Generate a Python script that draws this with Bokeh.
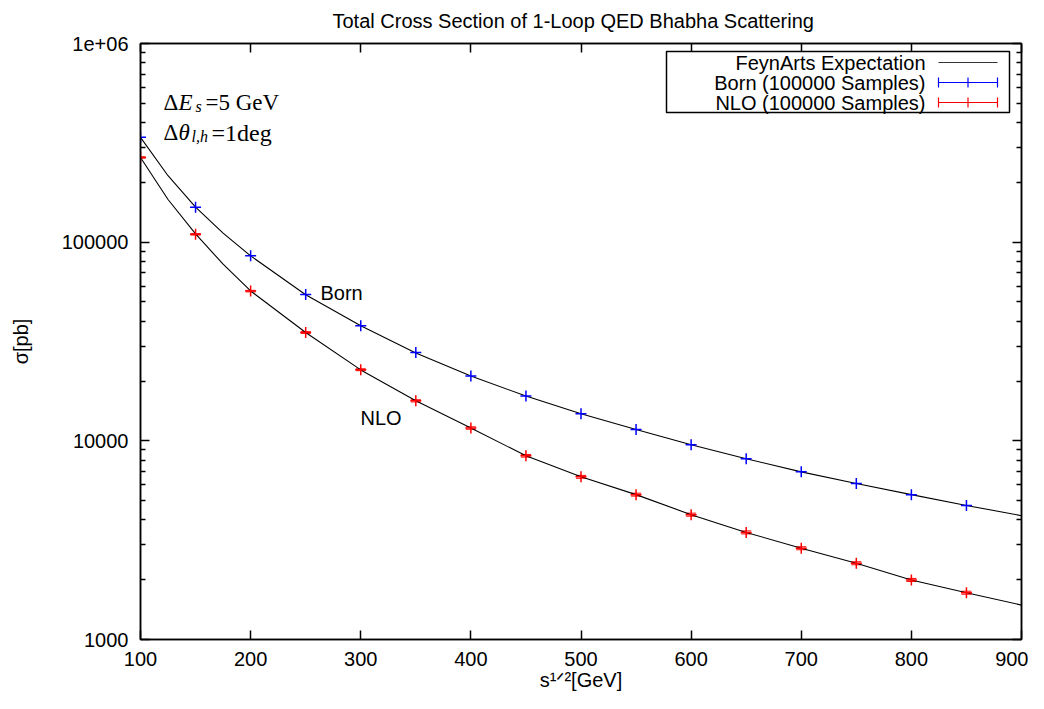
from bokeh.plotting import figure
from bokeh.models import (Label, BoxAnnotation, Arrow, TeeHead, FixedTicker,
                          LinearAxis, LogAxis, Range1d, Whisker, ColumnDataSource)
from bokeh.embed import file_html
from bokeh.resources import INLINE

# ---------------- data ----------------
energies = [100, 150, 200, 250, 300, 350, 400, 450, 500, 550, 600, 650, 700, 750, 800, 850]
born_mc = [337000, 150000, 85500, 54500, 38000, 27800, 21200, 16800, 13700, 11400,
           9550, 8130, 6980, 6100, 5360, 4730]
nlo_mc = [267000, 109500, 56700, 35100, 22800, 15900, 11600, 8410, 6590, 5360,
          4250, 3460, 2880, 2420, 1995, 1720]
nlo_err = [2000, 900, 500, 350, 250, 200, 160, 130, 110, 90, 75, 60, 50, 42, 35, 30]

curve_x = [100, 125, 150, 175, 200, 250, 300, 350, 400, 450, 500, 550, 600, 650, 700,
           750, 800, 850, 900]
born_curve = [337000, 216000, 150000, 111000, 85300, 54400, 38000, 27700, 21200, 16800,
              13700, 11400, 9550, 8130, 6980, 6100, 5360, 4730, 4200]
nlo_curve = [267000, 164000, 110000, 77500, 56800, 35100, 22750, 15900, 11600, 8410,
             6590, 5360, 4250, 3460, 2880, 2420, 1995, 1720, 1490]

x_ticks = [100, 200, 300, 400, 500, 600, 700, 800, 900]
y_ticks = [1000, 10000, 100000, 1000000]
y_tick_labels = ["1000", "10000", "100000", "1e+06"]
y_minor = [m * d for d in (1000, 10000, 100000) for m in range(2, 10)]

title_text = "Total Cross Section of 1-Loop QED Bhabha Scattering"
x_label = "s¹ᐟ²[GeV]"
y_label = "σ[pb]"
legend_labels = ["FeynArts Expectation", "Born (100000 Samples)", "NLO (100000 Samples)"]

SANS = "Liberation Sans"
SERIF = "Liberation Serif"
FS = "20px"

p = figure(width=1028, height=693,
           x_range=Range1d(100, 900), y_range=Range1d(1000, 1e6),
           y_axis_type="log", output_backend="svg", toolbar_location=None,
           min_border_left=140, min_border_right=7, min_border_top=42,
           min_border_bottom=54)
p.grid.visible = False
p.outline_line_color = "black"
p.outline_line_width = 1.5
p.background_fill_color = "white"
p.border_fill_color = "white"

p.title.text = title_text
p.title.text_font = SANS
p.title.text_font_size = FS
p.title.text_font_style = "normal"
p.title.text_color = "black"
p.title.align = "left"
p.title.offset = 192
p.title.standoff = 19
p.title.vertical_align = "top"

def style_axis(ax):
    ax.axis_line_color = "black"
    ax.axis_line_width = 1.5
    ax.major_tick_line_color = "black"
    ax.minor_tick_line_color = "black"
    ax.major_tick_line_width = 1.5
    ax.minor_tick_line_width = 1.5
    ax.major_tick_in = 9
    ax.major_tick_out = 0
    ax.minor_tick_in = 5
    ax.minor_tick_out = 0
    ax.major_label_text_font = SANS
    ax.major_label_text_font_size = FS
    ax.major_label_text_color = "black"
    ax.axis_label_text_font = SANS
    ax.axis_label_text_font_style = "normal"
    ax.axis_label_text_font_size = FS
    ax.axis_label_text_color = "black"

xt = FixedTicker(ticks=x_ticks, minor_ticks=[])
yt = FixedTicker(ticks=y_ticks, minor_ticks=y_minor)

bx = p.xaxis[0]
bx.ticker = xt
style_axis(bx)
bx.major_label_standoff = 12
bx.axis_label = x_label
bx.axis_label_standoff = 0

ly = p.yaxis[0]
ly.ticker = yt
style_axis(ly)
ly.major_label_overrides = {t: l for t, l in zip(y_ticks, y_tick_labels)}
ly.major_label_standoff = 12
ly.axis_label = y_label
ly.axis_label_standoff = 27

top = LinearAxis(ticker=xt)
style_axis(top)
top.major_label_overrides = {t: "" for t in x_ticks}
top.major_label_standoff = 0
top.major_label_text_font_size = "1px"
p.add_layout(top, "above")

right = LogAxis(ticker=yt)
style_axis(right)
right.major_label_overrides = {t: "" for t in y_ticks}
right.major_label_standoff = 0
right.major_label_text_font_size = "1px"
p.add_layout(right, "right")

# ---------------- curves and points ----------------
p.line(curve_x, born_curve, line_color="black", line_width=1.1)
p.line(curve_x, nlo_curve, line_color="black", line_width=1.1)

src = ColumnDataSource(dict(x=energies, lo=[v - e for v, e in zip(nlo_mc, nlo_err)],
                            hi=[v + e for v, e in zip(nlo_mc, nlo_err)]))
p.add_layout(Whisker(source=src, base="x", lower="lo", upper="hi", dimension="height",
                     line_color="red", line_width=1.0,
                     lower_head=TeeHead(size=10, line_color="red", line_width=1.0),
                     upper_head=TeeHead(size=10, line_color="red", line_width=1.0)))

p.scatter(energies, born_mc, marker="cross", size=11, line_color="blue", line_width=1.5)
p.scatter(energies, nlo_mc, marker="cross", size=11, line_color="red", line_width=1.5)

# ---------------- texts inside the frame ----------------
def canvas_label(x, y, text, font=SANS, size=FS, align="left", baseline="alphabetic",
                 style="normal"):
    p.add_layout(Label(x=x, y=y, x_units="canvas", y_units="canvas", text=text,
                       text_font=font, text_font_size=size, text_align=align,
                       text_baseline=baseline, text_font_style=style, text_color="black"))

canvas_label(320, 292, "Born")
canvas_label(360, 417, "NLO")

SZ = "23px"
SUB = "16px"
canvas_label(163, 102, "Δ", font=SERIF, size=SZ)
canvas_label(178, 102, "E", font=SERIF, size=SZ, style="italic")
canvas_label(195, 106, "s", font=SERIF, size=SUB, style="italic")
canvas_label(205, 102, "=5 GeV", font=SERIF, size=SZ)
canvas_label(163, 132, "Δ", font=SERIF, size=SZ)
canvas_label(178, 132, "θ", font=SERIF, size=SZ, style="italic")
canvas_label(191, 136, "l,h", font=SERIF, size=SUB, style="italic")
canvas_label(211, 132, "=1deg", font=SERIF, size="24px")

# ---------------- legend (gnuplot style: text left, sample right) ----------------
p.add_layout(BoxAnnotation(left=666, right=1009, top=51, bottom=112,
                           left_units="canvas", right_units="canvas",
                           top_units="canvas", bottom_units="canvas",
                           fill_color="white", fill_alpha=1.0,
                           line_color="black", line_alpha=1.0, line_width=1.5))
rows = [62, 82, 102]
colors = ["black", "blue", "red"]
for i, (lab, c, ry) in enumerate(zip(legend_labels, colors, rows)):
    canvas_label(925, ry, lab, align="right", baseline="middle")
    if i == 0:
        p.add_layout(Arrow(x_start=938, y_start=ry, x_end=997, y_end=ry,
                           start_units="canvas", end_units="canvas",
                           start=None, end=None, line_color="#333333", line_width=1.2))
    else:
        p.add_layout(Arrow(x_start=938, y_start=ry, x_end=997, y_end=ry,
                           start_units="canvas", end_units="canvas",
                           start=TeeHead(size=10, line_color=c, line_width=1.2),
                           end=TeeHead(size=10, line_color=c, line_width=1.2),
                           line_color=c, line_width=1.2))
        p.add_layout(Arrow(x_start=967.5, y_start=ry - 5, x_end=967.5, y_end=ry + 5,
                           start_units="canvas", end_units="canvas",
                           start=None, end=None, line_color=c, line_width=1.2))

open("out.html", "w").write(file_html(p, INLINE))
